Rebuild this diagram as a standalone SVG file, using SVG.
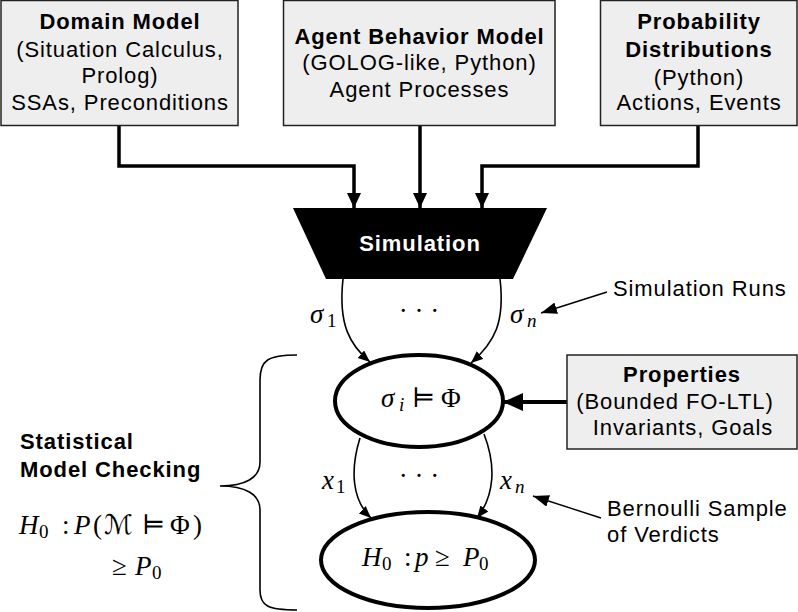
<svg xmlns="http://www.w3.org/2000/svg" width="798" height="612" viewBox="0 0 798 612">
<style>
.box{fill:#eeeeee;stroke:#222;stroke-width:1.5}
.t{font-family:"Liberation Sans",Arial,sans-serif;font-size:22px;letter-spacing:0.9px;fill:#000}
.c{text-anchor:middle}
.l{text-anchor:start}
.b{font-weight:bold}
.m{font-family:"Liberation Serif","DejaVu Serif","DejaVu Sans",serif;font-size:27px;fill:#000}
.sub{font-size:19px}
.i{font-style:italic}
.thick{fill:none;stroke:#000;stroke-width:3.5}
.thin{fill:none;stroke:#000;stroke-width:1.6}
.ann{fill:none;stroke:#000;stroke-width:1.4}
.ell{fill:#fff;stroke:#000;stroke-width:4}
</style>
<defs>
<marker id="ah" markerUnits="userSpaceOnUse" markerWidth="16" markerHeight="16" refX="15" refY="7" orient="auto"><path d="M0,0 L15,7 L0,14 z" fill="#000"/></marker>
<marker id="as" markerUnits="userSpaceOnUse" markerWidth="14" markerHeight="12" refX="12" refY="5" orient="auto"><path d="M0,0 L12,5 L0,10 z" fill="#000"/></marker>
<marker id="ap" markerUnits="userSpaceOnUse" markerWidth="22" markerHeight="20" refX="20" refY="9" orient="auto"><path d="M0,0 L20,9 L0,18 z" fill="#000"/></marker>
<marker id="aa" markerUnits="userSpaceOnUse" markerWidth="18" markerHeight="14" refX="16" refY="6" orient="auto"><path d="M0,0 L16,6 L0,12 z" fill="#000"/></marker>
</defs>

<g id="connectors">
<path class="thick" d="M119,125 V166 H354 V208" marker-end="url(#ah)"/>
<path class="thick" d="M420,125 V208" marker-end="url(#ah)"/>
<path class="thick" d="M698,125 V166 H482 V208" marker-end="url(#ah)"/>
<path class="thin" d="M343,279 C338,325 350,345 370,362" marker-end="url(#as)"/>
<path class="thin" d="M500,279 C505,322 495,342 471,363" marker-end="url(#as)"/>
<path class="thin" d="M360,438 C350,470 352,500 371,518" marker-end="url(#as)"/>
<path class="thin" d="M484,434 C496,465 495,495 477,518" marker-end="url(#as)"/>
<path class="thick" d="M567,402 H503" marker-end="url(#ap)" style="stroke-width:4"/>
<path class="ann" d="M607,292 L541,313" marker-end="url(#aa)"/>
<path class="ann" d="M601,518 L533,496" marker-end="url(#aa)"/>
</g>

<g id="domain-model">
<rect class="box" x="1" y="0.5" width="237" height="125"/>
<text class="t c b" x="120" y="29">Domain Model</text>
<text class="t c" x="120" y="57">(Situation Calculus,</text>
<text class="t c" x="120" y="83">Prolog)</text>
<text class="t c" x="120" y="110">SSAs, Preconditions</text>
</g>

<g id="agent-behavior-model">
<rect class="box" x="283.5" y="0.5" width="271.5" height="125"/>
<text class="t c b" x="419.5" y="44">Agent Behavior Model</text>
<text class="t c" x="419.5" y="70">(GOLOG-like, Python)</text>
<text class="t c" x="419.5" y="97">Agent Processes</text>
</g>

<g id="probability-distributions">
<rect class="box" x="600.5" y="0.5" width="196.5" height="125"/>
<text class="t c b" x="699" y="29">Probability</text>
<text class="t c b" x="699" y="57">Distributions</text>
<text class="t c" x="699" y="85">(Python)</text>
<text class="t c" x="699" y="110">Actions, Events</text>
</g>

<g id="simulation">
<path d="M293,208 H547 L513,279 H326 Z" fill="#000"/>
<text class="t c b" x="420" y="251" style="fill:#fff">Simulation</text>
</g>

<g id="labels-runs">
<text class="m" y="323"><tspan class="i" x="310">σ</tspan><tspan class="sub" x="327" dy="4">1</tspan></text>
<text class="m c" x="419" y="320">· · ·</text>
<text class="m" y="323"><tspan class="i" x="510">σ</tspan><tspan class="sub i" x="527" dy="4">n</tspan></text>
<text class="t l" x="613" y="296">Simulation Runs</text>
</g>

<g id="check">
<ellipse class="ell" cx="419" cy="401" rx="84" ry="46"/>
<text class="m" y="407"><tspan class="i" x="381">σ</tspan><tspan class="sub i" x="399" dy="4">i</tspan><tspan x="412" dy="-4">⊨</tspan><tspan x="441">Φ</tspan></text>
</g>

<g id="properties">
<rect class="box" x="567" y="355" width="230" height="94"/>
<text class="t c b" x="682" y="382">Properties</text>
<text class="t c" x="675" y="409">(Bounded FO-LTL)</text>
<text class="t c" x="683" y="435">Invariants, Goals</text>
</g>

<g id="labels-verdicts">
<text class="m" y="489"><tspan class="i" x="322">x</tspan><tspan class="sub" x="336" dy="4">1</tspan></text>
<text class="m c" x="419" y="485">· · ·</text>
<text class="m" y="489"><tspan class="i" x="500">x</tspan><tspan class="sub i" x="515" dy="4">n</tspan></text>
<text class="t l" x="607" y="516">Bernoulli Sample</text>
<text class="t l" x="607" y="542">of Verdicts</text>
</g>

<g id="hypothesis">
<ellipse class="ell" cx="428" cy="560" rx="107" ry="48"/>
<text class="m" y="566"><tspan class="i" x="362">H</tspan><tspan class="sub" x="382" dy="4">0</tspan><tspan x="404" dy="-4">:</tspan><tspan class="i" x="415">p</tspan><tspan x="435">≥</tspan><tspan class="i" x="463">P</tspan><tspan class="sub" x="479" dy="4">0</tspan></text>
</g>

<g id="smc">
<path class="thin" d="M297,355 C268,355 260,360 260,380 V462 C260,478 245,486 220,486 C245,486 260,494 260,510 V590 C260,606 268,610 297,610"/>
<text class="t l b" x="20" y="449">Statistical</text>
<text class="t l b" x="20" y="477">Model Checking</text>
<text class="m" y="534"><tspan class="i" x="19">H</tspan><tspan class="sub" x="39" dy="4">0</tspan><tspan x="62" dy="-4">:</tspan><tspan class="i" x="74">P</tspan><tspan x="93">(</tspan><tspan class="i" x="104">ℳ</tspan><tspan x="142">⊨</tspan><tspan x="170">Φ</tspan><tspan x="193">)</tspan></text>
<text class="m" y="575"><tspan x="112">≥</tspan><tspan class="i" x="135">P</tspan><tspan class="sub" x="152" dy="4">0</tspan></text>
</g>
</svg>
